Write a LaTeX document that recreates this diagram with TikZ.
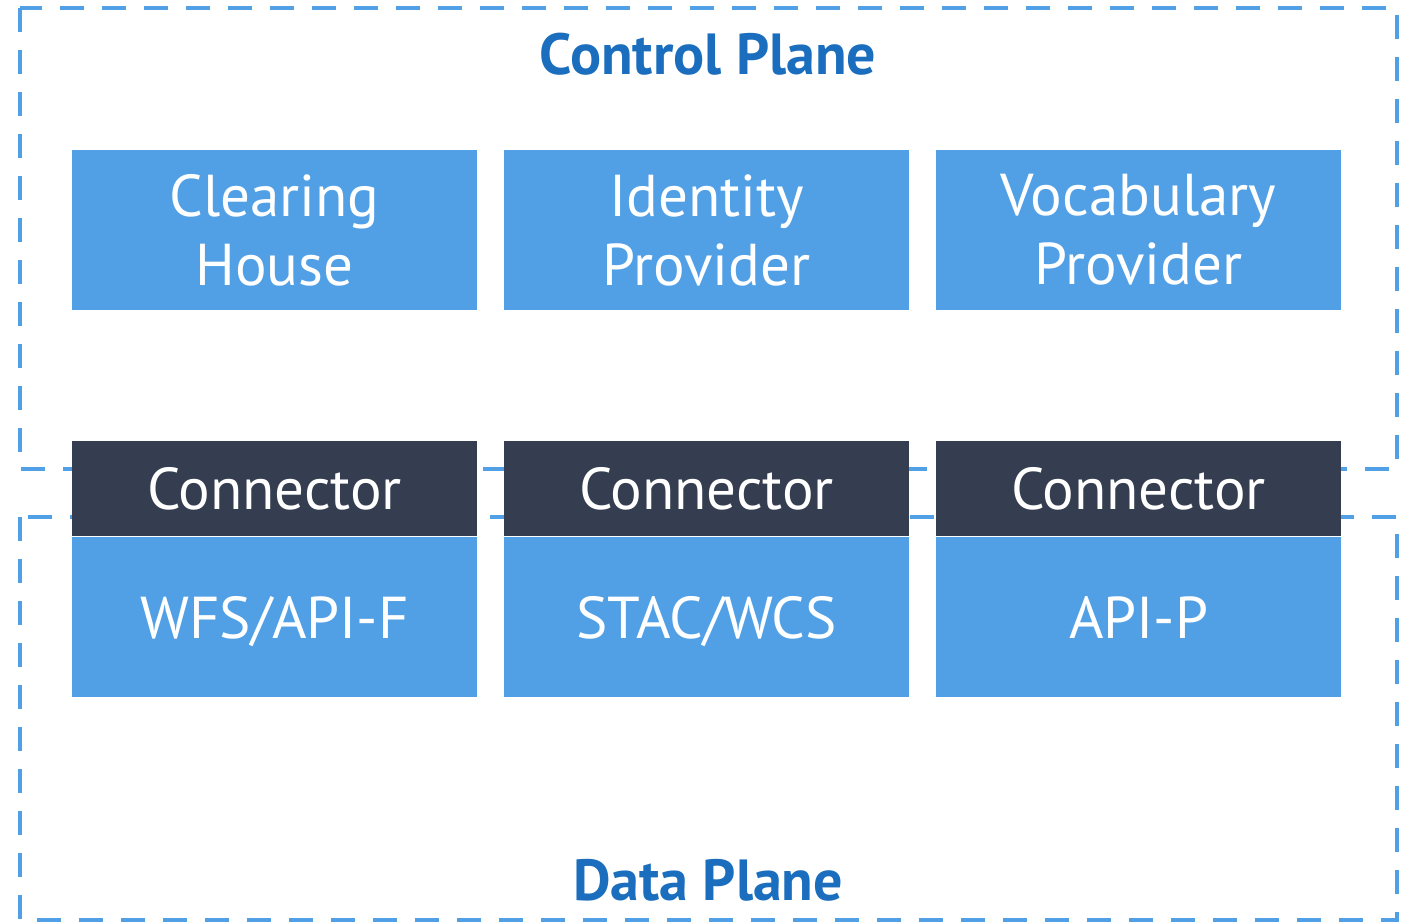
\documentclass[tikz,border=0pt]{standalone}
\usepackage{fontspec}
\setmainfont{PT Sans}
\newfontfamily\planefont{PT Sans}
\usetikzlibrary{positioning}
\definecolor{boxblue}{HTML}{51A0E6}
\definecolor{conndark}{HTML}{343E50}
\definecolor{titleblue}{HTML}{1A6EBD}

\begin{document}
\begin{tikzpicture}[
  svc/.style={rectangle,fill=boxblue,text=white,font=\fontsize{16.8}{19.6}\selectfont,minimum width=4.05cm,minimum height=1.6cm,inner sep=0pt,align=center},
  oneline/.style={text height=0.415cm,text depth=0pt},
  conn/.style={svc,oneline,fill=conndark,minimum height=0.95cm},
  plane/.style={draw=boxblue,line width=1.4pt,dash pattern=on 0.24cm off 0.18cm},
  ttl/.style={font=\planefont\bfseries\fontsize{16.5}{18}\selectfont,text=titleblue,anchor=base,inner sep=0pt}
]
  \useasboundingbox (0,0) rectangle (14.07,-9.23);
  % planes
  \draw[plane](0.20,-0.08) rectangle (13.97,-4.69);
  \draw[plane](0.20,-5.17) rectangle (13.97,-9.20);
  \node[ttl](CP) at (7.08,-0.74) {Control Plane};
  \node[ttl](DP) at (7.08,-9.00) {Data Plane};
  % control plane services
  \node[svc](CH) at (2.745,-2.30) {Clearing\\House};
  \node[svc](IP) at (7.065,-2.30) {Identity\\Provider};
  \node[svc](VP) at (11.385,-2.30) {Vocabulary\\Provider};
  % connectors
  \node[conn](C1) at (2.745,-4.885) {Connector};
  \node[conn](C2) at (7.065,-4.885) {Connector};
  \node[conn](C3) at (11.385,-4.885) {Connector};
  \node[svc,oneline,below=0pt of C1](D1) {WFS/API-F};
  \node[svc,oneline,below=0pt of C2](D2) {STAC/WCS};
  \node[svc,oneline,below=0pt of C3](D3) {API-P};
\end{tikzpicture}
\end{document}
